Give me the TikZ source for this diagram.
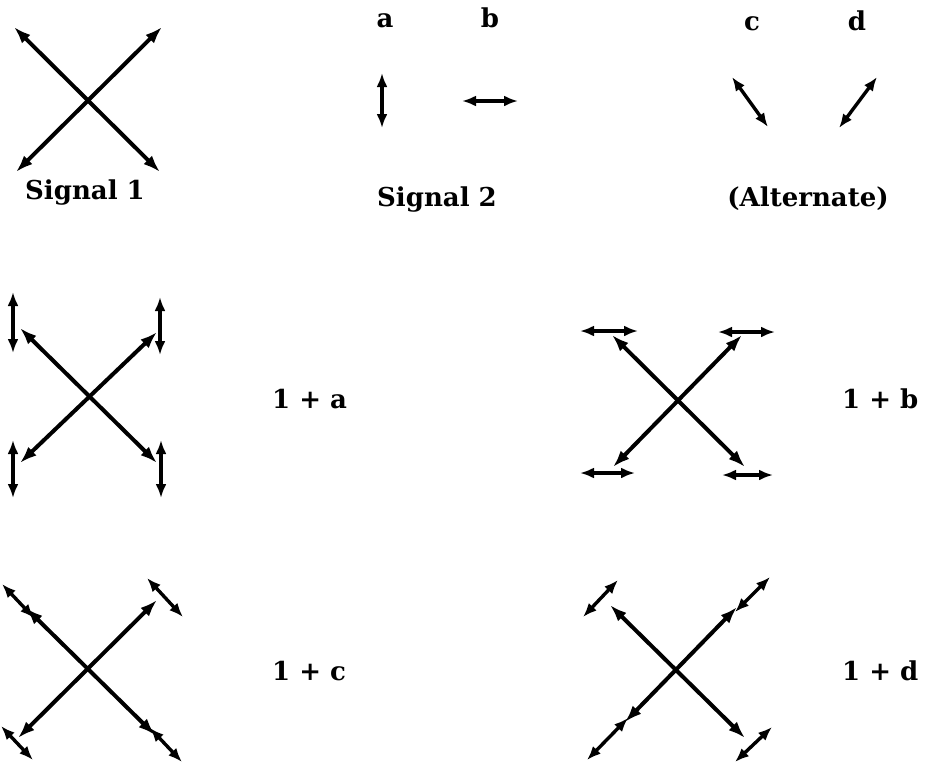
\documentclass[tikz,border=0pt]{standalone}
\usepackage{fontspec}
\setmainfont{DejaVu Serif}
\usetikzlibrary{arrows.meta}
\tikzset{
  bigarr/.style={line width=4pt, {Latex[length=17pt,width=12pt]}-{Latex[length=17pt,width=12pt]}},
  smallarr/.style={line width=3.4pt, {Latex[length=14pt,width=11pt]}-{Latex[length=14pt,width=11pt]}},
  lbl/.style={anchor=base, inner sep=0pt, font=\fontsize{26}{30}\selectfont\bfseries},
  lbll/.style={anchor=base west, inner sep=0pt, font=\fontsize{26}{30}\selectfont\bfseries}
}
\begin{document}
\begin{tikzpicture}[x=1pt,y=-1pt]
\useasboundingbox (0,0) rectangle (928,774);
% ---------- Signal 1
\coordinate (s1ul) at (14,27);  \coordinate (s1lr) at (160,172);
\coordinate (s1ur) at (162,27); \coordinate (s1ll) at (16,172);
\draw[bigarr] (s1ul) -- (s1lr);
\draw[bigarr] (s1ur) -- (s1ll);
\node[lbl] (sig1) at (85,199) {Signal 1};
% ---------- Signal 2
\node[lbl] (la) at (385,27) {a};
\node[lbl] (lb) at (490,27) {b};
\coordinate (a1) at (382,73); \coordinate (a2) at (382,128);
\draw[smallarr] (a1) -- (a2);
\coordinate (b1) at (462,101); \coordinate (b2) at (518,101);
\draw[smallarr] (b1) -- (b2);
\node[lbl] (sig2) at (437,206) {Signal 2};
% ---------- Alternate
\node[lbl] (lc) at (752,30) {c};
\node[lbl] (ld) at (857,30) {d};
\coordinate (c1) at (732,77); \coordinate (c2) at (768,127);
\draw[smallarr] (c1) -- (c2);
\coordinate (d1) at (877,77); \coordinate (d2) at (839,128);
\draw[smallarr] (d1) -- (d2);
\node[lbl] (alt) at (808,206) {(Alternate)};
% ---------- 1 + a
\coordinate (aul) at (20,328);  \coordinate (alr) at (157,463);
\coordinate (aur) at (157,332); \coordinate (all) at (20,463);
\draw[bigarr] (aul) -- (alr);
\draw[bigarr] (aur) -- (all);
\draw[smallarr] (13,292) coordinate (av1) -- (13,353) coordinate (av2);
\draw[smallarr] (160,297) coordinate (av3) -- (160,355) coordinate (av4);
\draw[smallarr] (13,440) coordinate (av5) -- (13,498) coordinate (av6);
\draw[smallarr] (161,440) coordinate (av7) -- (161,498) coordinate (av8);
\node[lbll] (pa) at (272,408) {1 + a};
% ---------- 1 + b
\coordinate (bul) at (612,335); \coordinate (blr) at (745,467);
\coordinate (bur) at (742,335); \coordinate (bll) at (613,467);
\draw[bigarr] (bul) -- (blr);
\draw[bigarr] (bur) -- (bll);
\draw[smallarr] (580,331) coordinate (bh1) -- (638,331) coordinate (bh2);
\draw[smallarr] (718,332) coordinate (bh3) -- (775,332) coordinate (bh4);
\draw[smallarr] (580,473) coordinate (bh5) -- (635,473) coordinate (bh6);
\draw[smallarr] (722,475) coordinate (bh7) -- (773,475) coordinate (bh8);
\node[lbll] (pb) at (842,408) {1 + b};
% ---------- 1 + c
\coordinate (cul) at (26,608);  \coordinate (clr) at (155,735);
\coordinate (cur) at (157,600); \coordinate (cll) at (18,738);
\draw[bigarr] (cul) -- (clr);
\draw[bigarr] (cur) -- (cll);
\draw[smallarr] (2,584) coordinate (cc1) -- (34,618) coordinate (cc2);
\draw[smallarr] (147,578) coordinate (cc3) -- (183,617) coordinate (cc4);
\draw[smallarr] (1,726) coordinate (cc5) -- (33,760) coordinate (cc6);
\draw[smallarr] (150,728) coordinate (cc7) -- (182,762) coordinate (cc8);
\node[lbll] (pc) at (272,680) {1 + c};
% ---------- 1 + d
\coordinate (dul) at (610,605); \coordinate (dlr) at (745,738);
\coordinate (dur) at (737,607); \coordinate (dll) at (625,722);
\draw[bigarr] (dul) -- (dlr);
\draw[bigarr] (dur) -- (dll);
\draw[smallarr] (618,580) coordinate (dd1) -- (583,617) coordinate (dd2);
\draw[smallarr] (735,612) coordinate (dd3) -- (770,577) coordinate (dd4);
\draw[smallarr] (628,718) coordinate (dd5) -- (587,760) coordinate (dd6);
\draw[smallarr] (772,727) coordinate (dd7) -- (735,762) coordinate (dd8);
\node[lbll] (pd) at (842,680) {1 + d};
\end{tikzpicture}
\end{document}
